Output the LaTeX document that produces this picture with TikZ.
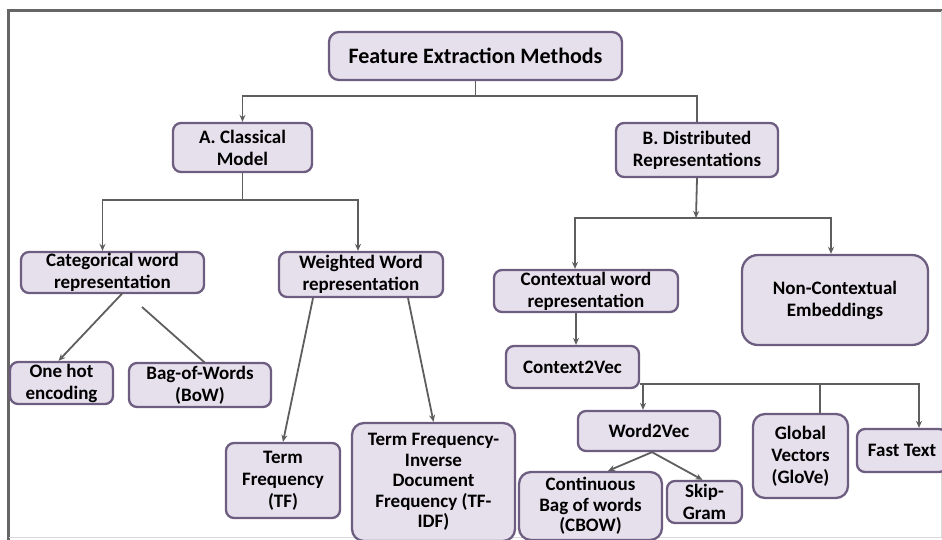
\documentclass[tikz,border=0pt]{standalone}
\usepackage{fontspec}
\setmainfont{Carlito}
\usetikzlibrary{arrows.meta,calc}
\definecolor{boxfill}{HTML}{E6E0EC}
\definecolor{boxline}{HTML}{6D5D80}
\definecolor{conncol}{HTML}{5E5E5E}
\tikzset{
  box/.style={draw=boxline, fill=boxfill, line width=2.3pt, rounded corners=8pt,
    align=center, inner xsep=2pt, inner ysep=0pt,
    font=\fontsize{19}{22}\selectfont\bfseries},
  tightbox/.style={box, font=\fontsize{19}{20.5}\selectfont\bfseries},
  conn/.style={draw=conncol, line width=1.8pt},
  arr/.style={conn, -{Stealth[length=7pt,width=6pt]}},
}
\begin{document}
\begin{tikzpicture}[x=1pt,y=-1pt]
\useasboundingbox (0,0) rectangle (942,539);
% frame
\draw[black!60, line width=3pt] (8,540) -- (8,10) -- (942,10);
\draw[black!15, line width=1pt] (941,11) -- (941,537) -- (9,537);

% nodes
\node[box, minimum width=293, minimum height=48, rounded corners=10pt,
  font=\fontsize{22}{26}\selectfont\bfseries] (fem) at (475.5,56) {Feature Extraction Methods};
\node[box, minimum width=139, minimum height=49] (A) at (242.5,147.5) {A. Classical\\Model};
\node[box, minimum width=162, minimum height=54] (B) at (697,150) {B. Distributed\\Representations};
\node[box, minimum width=183, minimum height=41] (cat) at (112.5,272.5) {Categorical word\\representation};
\node[box, minimum width=164, minimum height=45] (wei) at (361,274.5) {Weighted Word\\representation};
\node[box, minimum width=103, minimum height=42] (one) at (61.5,383) {One hot\\encoding};
\node[box, minimum width=142, minimum height=44] (bow) at (200,385) {Bag-of-Words\\(BoW)};
\node[box, minimum width=114, minimum height=75] (tf) at (283,480.5) {Term\\Frequency\\(TF)};
\node[tightbox, minimum width=163, minimum height=118, rounded corners=12pt] (tfidf) at (433.5,482)
  {Term Frequency-\\Inverse\\Document\\Frequency (TF-\\IDF)};
\node[box, minimum width=184, minimum height=42] (ctx) at (586,291) {Contextual word\\representation};
\node[box, minimum width=186, minimum height=90, rounded corners=16pt] (nonctx) at (835,300)
  {Non-Contextual\\Embeddings};
\node[box, minimum width=133, minimum height=42] (c2v) at (572.5,367) {Context2Vec};
\node[box, minimum width=142, minimum height=40] (w2v) at (649,431) {Word2Vec};
\node[box, minimum width=95, minimum height=84, rounded corners=12pt] (glove) at (800.5,456)
  {Global\\Vectors\\(GloVe)};
\node[box, minimum width=90, minimum height=43] (fast) at (902,450.5) {Fast Text};
\node[tightbox, minimum width=143, minimum height=68, rounded corners=12pt] (cbow) at (590.5,506)
  {Continuous\\Bag of words\\(CBOW)};
\node[box, minimum width=75, minimum height=42] (skip) at (704.5,502) {Skip-\\Gram};

% connectors: top level
\coordinate (j1) at (475.5,96);
\draw[conn] (fem.south) -- (j1);
\draw[arr] (j1) -| (A.north);
\draw[conn] (j1) -| (B.north);

% classical model
\coordinate (j2) at (242.5,200);
\draw[conn] (A.south) -- (j2);
\draw[arr] (j2) -| ($(cat.north)+(-10,0)$);
\draw[arr] (j2) -| ($(wei.north)+(-3,0)$);
\draw[arr] ($(cat.south)+(10,-1)$) -- ($(one.north)+(-3,0)$);
\coordinate (catb) at (142,307);
\draw[conn] (catb) -- ($(bow.north)+(5,1)$);
\draw[arr] ($(wei.south)+(-48,0)$) -- (tf.north);
\draw[arr] ($(wei.south)+(47,0)$) -- (tfidf.north);

% distributed representations
\coordinate (j3) at (696,218);
\draw[arr] (B.south) -- (j3);
\draw[arr] (j3) -| ($(ctx.north)+(-11,0)$);
\draw[arr] (j3) -| ($(nonctx.north)+(-4,0)$);
\draw[arr] ($(ctx.south)+(-10,0)$) -- ($(c2v.north)+(3.5,0)$);
\coordinate (j4) at ($(c2v.south east)+(0,-5)$);
\draw[arr] (j4) -| ($(w2v.north)+(-6,0)$);
\draw[conn] (j4) -| ($(glove.north)+(19.5,0)$);
\draw[arr] (j4) -| ($(fast.north)+(17,0)$);
\draw[arr] ($(w2v.south)+(3,0)$) -- ($(cbow.north)+(17.5,0)$);
\draw[arr] ($(w2v.south)+(3,0)$) -- ($(skip.north)+(-2,0)$);
\end{tikzpicture}
\end{document}
